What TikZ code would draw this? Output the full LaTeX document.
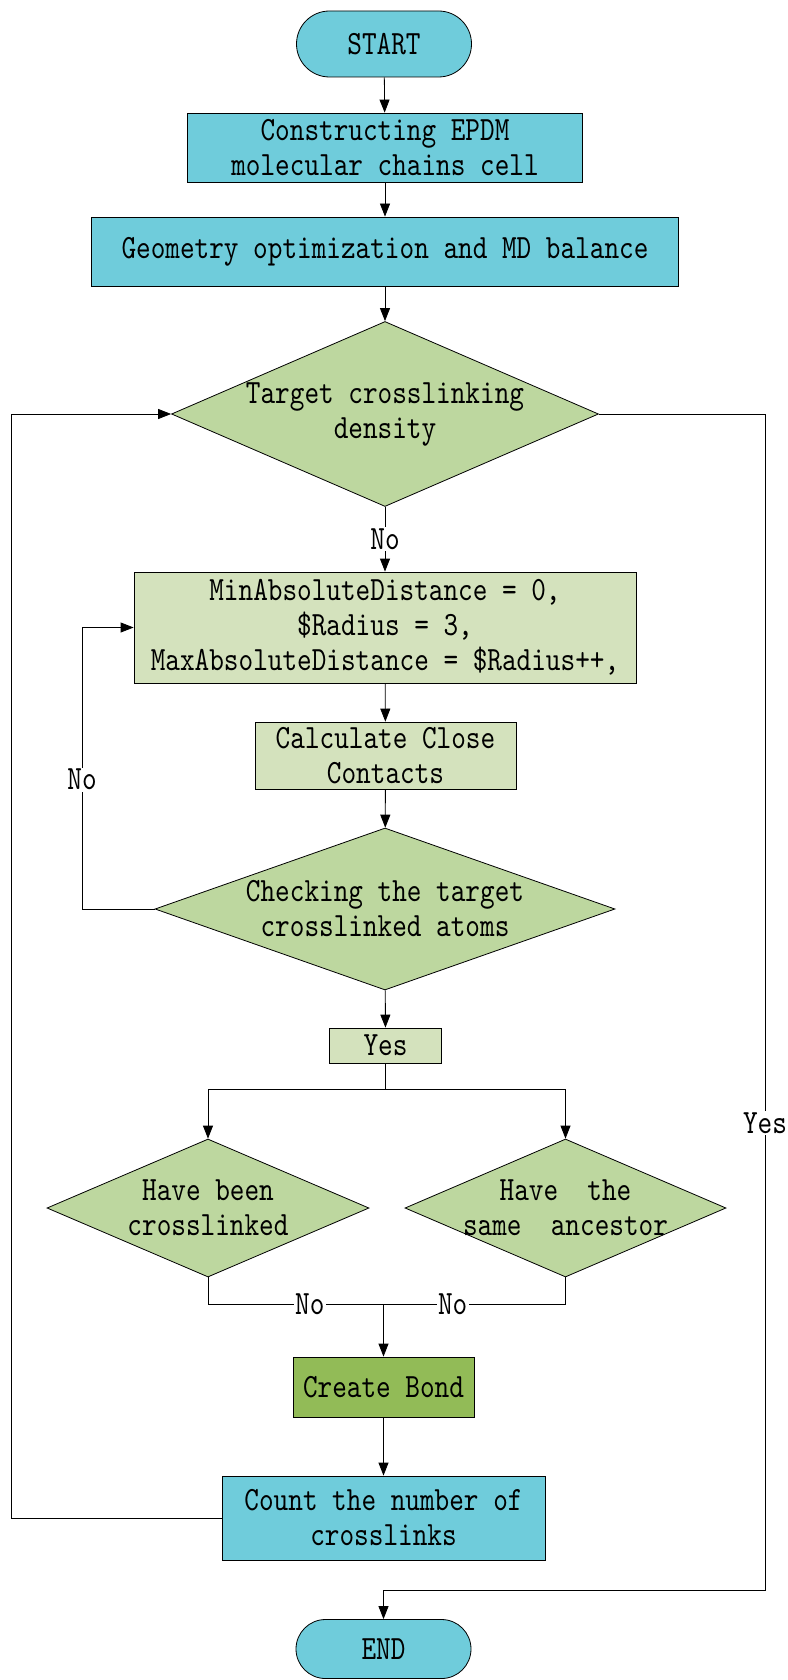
\documentclass[tikz,border=0pt]{standalone}
\usepackage{fontspec}
\setmainfont{lmmono10-regular.otf}[FakeStretch=0.82]
\usetikzlibrary{shapes.geometric,shapes.misc,arrows.meta}
\definecolor{cellcyan}{HTML}{6FCCDB}
\definecolor{palegreen}{HTML}{D4E2BD}
\definecolor{testgreen}{HTML}{BDD79F}
\definecolor{bondgreen}{HTML}{92BB57}

\begin{document}
\begin{tikzpicture}[x=1pt,y=-1pt,line width=0.8pt,>={Triangle[length=13pt,width=10pt]}]
	\tikzstyle{every node}+=[inner sep=0pt,align=center,font=\fontsize{34}{35}\selectfont]
	\tikzstyle{terminal}=[draw,fill=cellcyan,rounded rectangle,minimum width=175pt]
	\tikzstyle{cyanbox}=[draw,fill=cellcyan,rectangle]
	\tikzstyle{greenbox}=[draw,fill=palegreen,rectangle]
	\tikzstyle{testbox}=[draw,fill=testgreen,diamond]
	\tikzstyle{tag}=[fill=white,inner sep=1.5pt]
	\useasboundingbox (0,0) rectangle (787,1680);
	\node [terminal,minimum height=66pt] (start) at (384,44) {START};
	\node [cyanbox,minimum width=395pt,minimum height=69pt] (cell) at (385,147.5) {Constructing EPDM\\molecular chains cell};
	\node [cyanbox,minimum width=587pt,minimum height=69pt] (relax) at (385,251.5) {Geometry optimization and MD balance};
	\node [testbox,minimum width=427pt,minimum height=185pt,aspect=2.31] (density) at (385,414) {Target crosslinking\\density};
	\node [greenbox,minimum width=502pt,minimum height=111pt] (radius) at (385,627.5) {MinAbsoluteDistance = 0,\\\$Radius = 3,\\MaxAbsoluteDistance = \$Radius++,};
	\node [greenbox,minimum width=261pt,minimum height=67pt] (contacts) at (385.5,755.5) {Calculate Close\\Contacts};
	\node [testbox,minimum width=460pt,minimum height=162pt,aspect=2.84] (atoms) at (385,909) {Checking the target\\crosslinked atoms};
	\node [greenbox,minimum width=112pt,minimum height=35pt] (yes) at (385.5,1045.5) {Yes};
	\node [testbox,minimum width=322pt,minimum height=138pt,aspect=2.33] (linked) at (208,1208) {Have been\\crosslinked};
	\node [testbox,minimum width=321pt,minimum height=138pt,aspect=2.33,inner xsep=-22pt] (ancestor) at (565.5,1208) {Have\ \ the\\same\ \ ancestor};
	\node [rectangle,draw,fill=bondgreen,minimum width=181pt,minimum height=60pt] (bond) at (383.5,1387) {Create Bond};
	\node [cyanbox,minimum width=323pt,minimum height=84pt] (count) at (383.5,1518) {Count the number of\\crosslinks};
	\node [terminal,minimum height=59pt] (end) at (383.5,1649) {END};
	\coordinate (split) at (385.5,1089);
	\coordinate (join) at (383.5,1304);
	\coordinate (leftrail) at (11,1518);
	\coordinate (rightrail) at (765,414);
	\coordinate (endturn) at (765,1590);
	\coordinate (noturn) at (82,909);
	\draw [->] (start) -- (cell);
	\draw [->] (cell) -- (relax);
	\draw [->] (relax) -- (density);
	\draw [->] (density) -- node [tag] {No} (radius);
	\draw [->] (radius) -- (contacts);
	\draw [->] (contacts) -- (atoms);
	\draw [->] (atoms.west) -- (noturn) -- node [tag,pos=0.46] {No} (noturn |- radius.west) -- (radius.west);
	\draw [->] (atoms) -- (yes);
	\draw (yes) -- (split);
	\draw [->] (split) -| (linked.north);
	\draw [->] (split) -| (ancestor.north);
	\draw (linked.south) |- node [tag,pos=0.79] {No} (join);
	\draw (ancestor.south) |- node [tag,pos=0.81] {No} (join);
	\draw [->] (join) -- (bond);
	\draw [->] (bond) -- (count);
	\draw [->] (count.west) -- (leftrail) |- (density.west);
	\draw [->] (density.east) -- (rightrail) -- node [tag,pos=0.603] {Yes} (endturn) -| (end.north);
\end{tikzpicture}
\end{document}
